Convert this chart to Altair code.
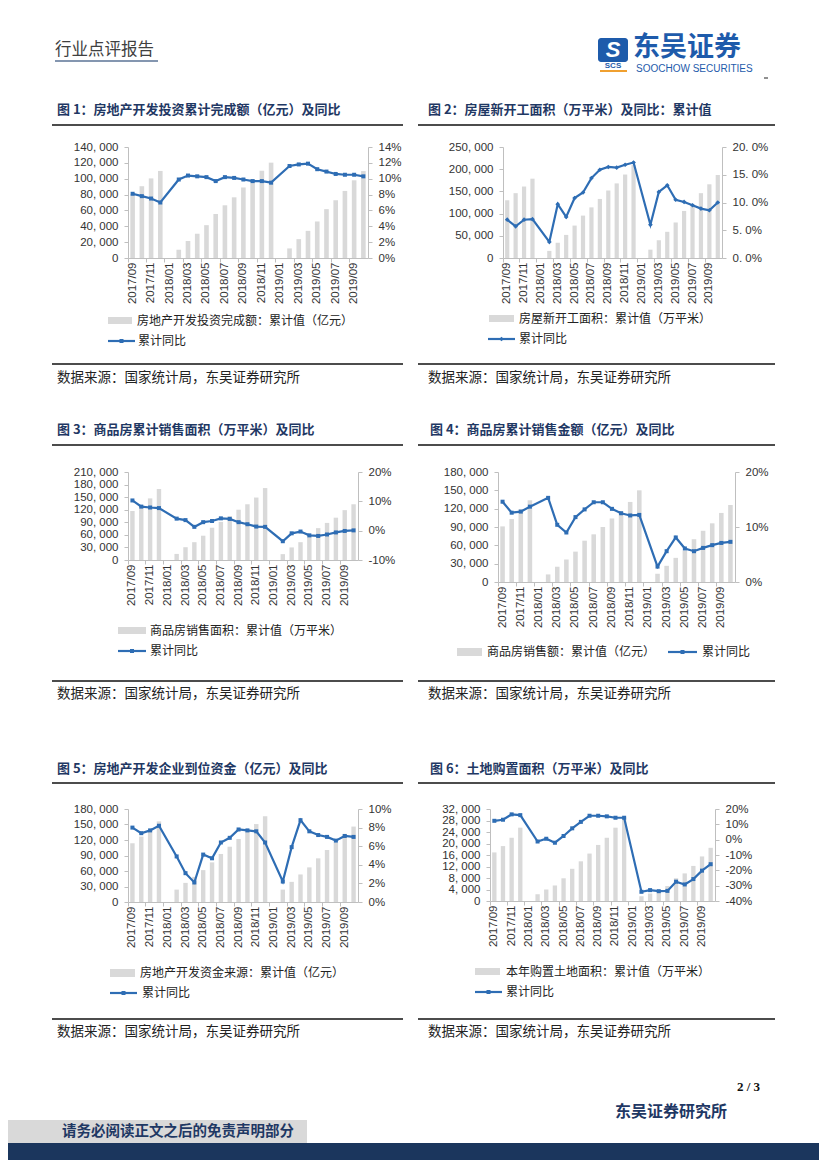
import altair as alt
import pandas as pd

months = ["2017/09", "2017/10", "2017/11", "2017/12",
          "2018/01", "2018/02", "2018/03", "2018/04", "2018/05", "2018/06",
          "2018/07", "2018/08", "2018/09", "2018/10", "2018/11", "2018/12",
          "2019/01", "2019/02", "2019/03", "2019/04", "2019/05", "2019/06",
          "2019/07", "2019/08", "2019/09", "2019/10"]

inv_value = [80644, 90544, 100387, 109799, None, 10439, 21475, 30592, 41422, 55531, 66478, 76519, 88948,
             99325, 110083, 120264, None, 12090, 23803, 34217, 46075, 61609, 72843, 84589, 98008, 109603]
inv_yoy = [8.1, 7.8, 7.5, 7.0, None, 9.9, 10.4, 10.3, 10.2, 9.7, 10.2, 10.1, 9.9, 9.7, 9.7, 9.5,
           None, 11.6, 11.8, 11.9, 11.2, 10.9, 10.6, 10.5, 10.5, 10.3]

start_value = [130000, 146000, 161000, 178654, None, 16000, 34500, 52000, 73000, 95500, 114000, 133000,
               152000, 168000, 188000, 209342, None, 18800, 40000, 59000, 80000, 106000, 120000, 146000,
               166000, 187000]
start_yoy = [6.9, 5.7, 6.9, 7.0, None, 2.9, 9.7, 7.4, 10.8, 11.8, 14.4, 15.9, 16.4, 16.3, 16.8, 17.2,
             None, 6.0, 11.9, 13.1, 10.5, 10.1, 9.5, 8.9, 8.6, 10.0]

area_value = [117000, 131000, 147000, 169408, None, 14500, 30500, 42500, 58000, 77000, 91000, 105000,
              120000, 133000, 149000, 171654, None, 14000, 30000, 42500, 56000, 76000, 88500, 101000,
              119000, 133000]
area_yoy = [10.3, 8.2, 7.9, 7.7, None, 4.1, 3.6, 1.3, 2.9, 3.3, 4.2, 4.0, 2.9, 2.2, 1.4, 1.3,
            None, -3.6, -0.9, -0.3, -1.6, -1.8, -1.3, -0.6, -0.1, 0.1]

sales_value = [91000, 103000, 119000, 133701, None, 12400, 25000, 36800, 49700, 67600, 78000, 90000,
               104000, 116000, 131000, 150000, None, 13500, 26500, 39500, 51400, 70000, 83800, 96000,
               113000, 126000]
sales_yoy = [14.6, 12.6, 12.8, 13.7, None, 15.3, 10.4, 9.0, 11.8, 13.2, 14.5, 14.5, 13.3, 12.5, 12.1, 12.2,
             None, 2.8, 5.6, 8.1, 6.1, 5.6, 6.2, 6.7, 7.1, 7.3]

funds_value = [113700, 126700, 139700, 156053, None, 24000, 37000, 48700, 61700, 76700, 93000, 107000,
               122000, 136500, 150800, 165963, None, 24000, 39000, 53300, 67000, 84500, 100700, 115000,
               132000, 146000]
funds_yoy = [8.0, 7.4, 7.7, 8.2, None, 4.9, 3.1, 2.1, 5.1, 4.7, 6.4, 6.9, 7.8, 7.7, 7.6, 6.4,
             None, 2.2, 5.9, 8.8, 7.6, 7.2, 7.0, 6.6, 7.1, 7.0]

land_value = [16900, 19100, 22000, 25508, None, 2350, 4000, 5400, 7900, 11200, 13800, 16500, 19500,
              22000, 25500, 29142, None, 1650, 2600, 3500, 5200, 7900, 9600, 12200, 15500, 18500]
land_yoy = [12.3, 13.0, 16.5, 16.0, None, -1.2, 0.6, -2.0, 2.4, 7.4, 11.6, 15.6, 15.6, 15.2, 14.3, 14.3,
            None, -34.0, -32.9, -33.6, -33.4, -27.4, -29.2, -25.7, -20.2, -16.0]

CJK = "Noto Sans CJK SC"
LAT = "Liberation Sans"
NAVY = "#1f3864"
BLUE = "#2e6db4"
BARC = "#d9d9d9"
AXC = "#bfbfbf"
LBL = "#333333"
SRC = "数据来源：国家统计局，东吴证券研究所"

dummy = pd.DataFrame({"d": [0]})


def panel(origin, size, frame, bars, yoy, lvals, rvals, rexpr, marker, title, tpos, rule_x, rule_y,
          src_pos, legend, extras):
    ox, oy = origin
    w, h = size

    def vx(px):
        return px - ox

    def vy(py):
        return py - oy

    def T(x, y, text, fs=12, color="#222222", weight="normal", align="left", font=CJK, style="normal"):
        return alt.Chart(dummy).mark_text(text=text, fontSize=fs, color=color, fontWeight=weight,
                                          align=align, baseline="middle", font=font,
                                          fontStyle=style).encode(
            x=alt.value(vx(x)), y=alt.value(vy(y)))

    def R(x1, x2, y1, y2, color, opacity=1.0, radius=0):
        return alt.Chart(dummy).mark_rect(color=color, opacity=opacity, cornerRadius=radius).encode(
            x=alt.value(vx(x1)), x2=alt.value(vx(x2)), y=alt.value(vy(y1)), y2=alt.value(vy(y2)))

    def L(x1, x2, y, color="#111111", sw=1.5):
        return alt.Chart(dummy).mark_rule(color=color, strokeWidth=sw).encode(
            x=alt.value(vx(x1)), x2=alt.value(vx(x2)), y=alt.value(vy(y)))

    def P(x, y, shape, sz):
        return alt.Chart(dummy).mark_point(shape=shape, size=sz, filled=True, color=BLUE, opacity=1).encode(
            x=alt.value(vx(x)), y=alt.value(vy(y)))

    df = pd.DataFrame({"month": months, "value": bars, "yoy": yoy})
    ldf = df.dropna(subset=["yoy"])
    xs = alt.Scale(domain=months, paddingInner=0, paddingOuter=0)
    x_tick = alt.X("month:O", sort=months, scale=xs,
                   axis=alt.Axis(orient="bottom", values=months[::2], labels=False, ticks=True, tickSize=4,
                                 tickColor=AXC, domain=True, domainColor=AXC, bandPosition=0, title=None,
                                 grid=False))
    x_lab = alt.X("month:O", sort=months, scale=xs,
                  axis=alt.Axis(orient="bottom", values=months[::2], labelAngle=-90, labelAlign="right",
                                labelBaseline="middle", labelFont=LAT, labelFontSize=11.5,
                                labelColor=LBL, ticks=False, domain=False, labelPadding=4, title=None,
                                grid=False))
    lax = alt.Axis(orient="left", values=lvals, labelExpr="replace(format(datum.value, ','), ',', ', ')",
                   tickSize=4, tickColor=AXC, domainColor=AXC, labelPadding=6, grid=False, title=None,
                   labelFont=LAT, labelFontSize=11.5, labelColor=LBL)
    rax = alt.Axis(orient="right", values=rvals, labelExpr=rexpr, tickSize=4, tickColor=AXC,
                   domainColor=AXC, labelPadding=6, grid=False, title=None, labelFont=LAT,
                   labelFontSize=11.5, labelColor=LBL)
    bar_layer = alt.Chart(df).mark_bar(color=BARC, width=alt.RelativeBandSize(0.5)).encode(
        x=x_tick, y=alt.Y("value:Q", scale=alt.Scale(domain=[lvals[0], lvals[-1]], nice=False), axis=lax))
    msize = 22 if marker == "diamond" else 16
    line_layer = alt.Chart(ldf).mark_line(
        color=BLUE, strokeWidth=2.2,
        point=alt.OverlayMarkDef(shape=marker, filled=True, size=msize, color=BLUE)).encode(
        x=x_lab, y=alt.Y("yoy:Q", scale=alt.Scale(domain=[rvals[0], rvals[-1]], nice=False, zero=False),
                         axis=rax))

    decos = [R(frame[0], frame[1], frame[2], frame[3], "white", 0.0)]
    decos.append(T(tpos[0], tpos[1], title, fs=13, color=NAVY, weight="bold"))
    decos.append(L(rule_x[0], rule_x[1], rule_y[0]))
    decos.append(L(rule_x[0], rule_x[1], rule_y[1]))
    decos.append(T(src_pos[0], src_pos[1], SRC, fs=13.5, color="#222222"))
    sw = legend["swatch"]
    decos.append(R(sw[0], sw[1], sw[2], sw[3], BARC))
    decos.append(T(legend["t1"][0], legend["t1"][1], legend["label"], fs=12))
    ln = legend["line"]
    decos.append(L(ln[0], ln[1], ln[2], BLUE, 2.2))
    decos.append(P((ln[0] + ln[1]) / 2, ln[2], marker, msize))
    decos.append(T(legend["t2"][0], legend["t2"][1], "累计同比", fs=12))
    for e in extras:
        kind = e[0]
        if kind == "T":
            decos.append(T(*e[1]))
        elif kind == "R":
            decos.append(R(*e[1]))
        elif kind == "L":
            decos.append(L(*e[1]))

    return alt.layer(bar_layer, line_layer, *decos).resolve_scale(y="independent").resolve_axis(
        x="independent").properties(width=w, height=h)


LOGO = "#1e5bab"

p1 = panel((128, 147), (240, 111), (8, 414, 8, 405), inv_value, inv_yoy,
           list(range(0, 140001, 20000)), list(range(0, 15, 2)), "datum.value + '%'", "square",
           "图 1：房地产开发投资累计完成额（亿元）及同比", (57, 110), (52, 403), (125, 364), (57, 378),
           {"swatch": (108, 132, 317, 324), "t1": (137, 320.5), "label": "房地产开发投资完成额：累计值（亿元）",
            "line": (108, 135, 341), "t2": (138, 341)},
           [("T", (55, 50, "行业点评报告", 16.5, "#404040")),
            ("L", (55, 158, 61, "#8496b0", 2))])

p2 = panel((503, 147), (219, 111), (414, 819, 8, 405), start_value, start_yoy,
           list(range(0, 250001, 50000)), [0, 5, 10, 15, 20],
           "replace(format(datum.value, '.1f'), '.', '. ') + '%'", "diamond",
           "图 2：房屋新开工面积（万平米）及同比：累计值", (428, 110), (418, 775), (125, 364), (428, 378),
           {"swatch": (489, 514, 315, 322), "t1": (519, 318.5), "label": "房屋新开工面积：累计值（万平米）",
            "line": (488, 515, 339), "t2": (519, 339)},
           [("R", (598, 628, 38, 62, LOGO, 1.0, 3)),
            ("T", (613, 50, "S", 22, "white", "bold", "center", LAT, "italic")),
            ("T", (613, 66, "SCS", 8, LOGO, "bold", "center", LAT)),
            ("L", (600, 627, 71, "#f0a030", 2)),
            ("T", (633, 48, "东吴证券", 27, LOGO, "bold")),
            ("T", (636, 68.5, "SOOCHOW SECURITIES", 10, LOGO, "normal", "left", LAT)),
            ("L", (764, 768, 78, "#222222", 1))])

p3 = panel((128, 472), (230, 88), (8, 414, 405, 745), area_value, area_yoy,
           list(range(0, 210001, 30000)), [-10, 0, 10, 20], "datum.value + '%'", "square",
           "图 3：商品房累计销售面积（万平米）及同比", (57, 430), (52, 403), (445, 681), (57, 694),
           {"swatch": (118, 146, 627, 634), "t1": (150, 630.5), "label": "商品房销售面积：累计值（万平米）",
            "line": (118, 146, 651), "t2": (150, 651)},
           [])

p4 = panel((498, 472), (237, 110), (414, 819, 405, 745), sales_value, sales_yoy,
           list(range(0, 180001, 30000)), [0, 10, 20], "datum.value + '%'", "square",
           "图 4：商品房累计销售金额（亿元）及同比", (430, 430), (418, 775), (445, 681), (428, 694),
           {"swatch": (457, 482, 648, 656), "t1": (487, 652), "label": "商品房销售额：累计值（亿元）",
            "line": (668, 697, 652), "t2": (702, 652)},
           [])

p5 = panel((128, 809), (230, 93), (8, 414, 745, 1160), funds_value, funds_yoy,
           list(range(0, 180001, 30000)), [0, 2, 4, 6, 8, 10], "datum.value + '%'", "square",
           "图 5：房地产开发企业到位资金（亿元）及同比", (57, 769), (52, 403), (783, 1019), (57, 1032),
           {"swatch": (110, 135, 969, 977), "t1": (140, 973), "label": "房地产开发资金来源：累计值（亿元）",
            "line": (110, 137, 993), "t2": (142, 993)},
           [("R", (8, 307, 1120, 1143, "#d9d9d9")),
            ("T", (62, 1132, "请务必阅读正文之后的免责声明部分", 14.5, NAVY, "bold")),
            ("R", (8, 414, 1143, 1160, "#1b365d"))])

p6 = panel((490, 809), (225, 92), (414, 819, 745, 1160), land_value, land_yoy,
           list(range(0, 32001, 4000)), [-40, -30, -20, -10, 0, 10, 20], "datum.value + '%'", "square",
           "图 6：土地购置面积（万平米）及同比", (430, 769), (418, 775), (783, 1019), (428, 1032),
           {"swatch": (475, 500, 968, 975), "t1": (506, 972), "label": "本年购置土地面积：累计值（万平米）",
            "line": (475, 502, 992), "t2": (506, 992)},
           [("T", (760, 1087, "2 / 3", 13, "#111111", "bold", "right", "Liberation Serif")),
            ("T", (727, 1112, "东吴证券研究所", 16, NAVY, "bold", "right")),
            ("R", (414, 819, 1143, 1160, "#1b365d"))])

chart = alt.vconcat(
    alt.hconcat(p1, p2, spacing=0),
    alt.hconcat(p3, p4, spacing=0),
    alt.hconcat(p5, p6, spacing=0),
    spacing=0,
).properties(padding=0, background="white").configure_view(strokeWidth=0)

chart.save("out.html", embed_options={"renderer": "svg", "actions": False})
